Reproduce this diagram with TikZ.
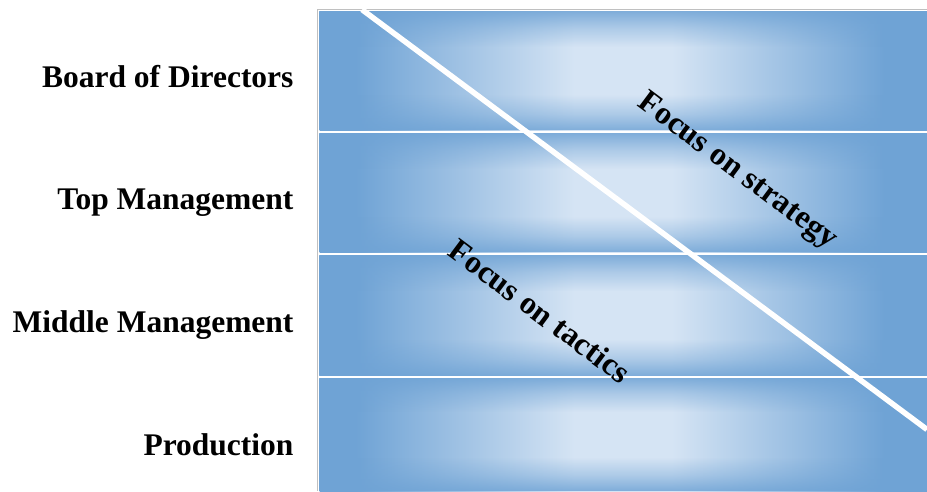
\documentclass[tikz,border=0pt]{standalone}
\usepackage{fontspec}
\setmainfont{Liberation Serif}
\usepackage{xcolor}
\usepackage{tikz}
\usetikzlibrary{positioning, fadings}

\definecolor{banddark}{RGB}{111,163,213}
\definecolor{bandlight}{RGB}{213,228,244}
\definecolor{framegray}{RGB}{192,192,192}
% the path covers 25bp to 75bp of a shading
\pgfdeclarehorizontalshading{bandshade}{100bp}{color(0bp)=(banddark); color(28bp)=(banddark); color(46bp)=(bandlight); color(54bp)=(bandlight); color(71.5bp)=(banddark); color(100bp)=(banddark)}
\pgfdeclareverticalshading{edgemask}{100bp}{color(0bp)=(pgftransparent!15); color(25bp)=(pgftransparent!15); color(32bp)=(pgftransparent!60); color(40bp)=(pgftransparent!100); color(60bp)=(pgftransparent!100); color(68bp)=(pgftransparent!60); color(75bp)=(pgftransparent!15); color(100bp)=(pgftransparent!15)}
\pgfdeclarefading{edgefade}{\pgfuseshading{edgemask}}

\begin{document}
\begin{tikzpicture}[
    x=1pt, y=-1pt,
    band/.style={shading=bandshade},
    bandedge/.style={fill=banddark, path fading=edgefade, fit fading=true},
    level/.style={anchor=base east, font=\bfseries\fontsize{31.5}{38}\selectfont},
    focus/.style={rotate=-36.7, font=\bfseries\fontsize{32}{38}\selectfont},
    divider/.style={white, line width=5.5pt}
]
\useasboundingbox (0,0) rectangle (927,491);

% bands
\foreach \top/\bot in {11/130.5, 133/252.5, 255/375.5, 378/491} {
    \shade[band] (319.5,\top) rectangle (927,\bot);
    \path[bandedge] (319.5,\top) rectangle (927,\bot);
}

% frame
\draw[framegray, line width=1.2pt] (317.6,491) -- (317.6,9.6) -- (927,9.6);

% levels
\node[level] (board) at (297,87) {Board of Directors};
\node[level] (top) at (297,209.5) {Top Management};
\node[level] (middle) at (297,332) {Middle Management};
\node[level] (prod) at (297,455) {Production};

% diagonal
\coordinate (diagstart) at (362,9.6);
\coordinate (diagend) at (927,429.5);
\draw[divider] (diagstart) -- (diagend);

\node[focus] (strategy) at (737,172) {Focus on strategy};
\node[focus] (tactics) at (540,311) {Focus on tactics};
\end{tikzpicture}
\end{document}
